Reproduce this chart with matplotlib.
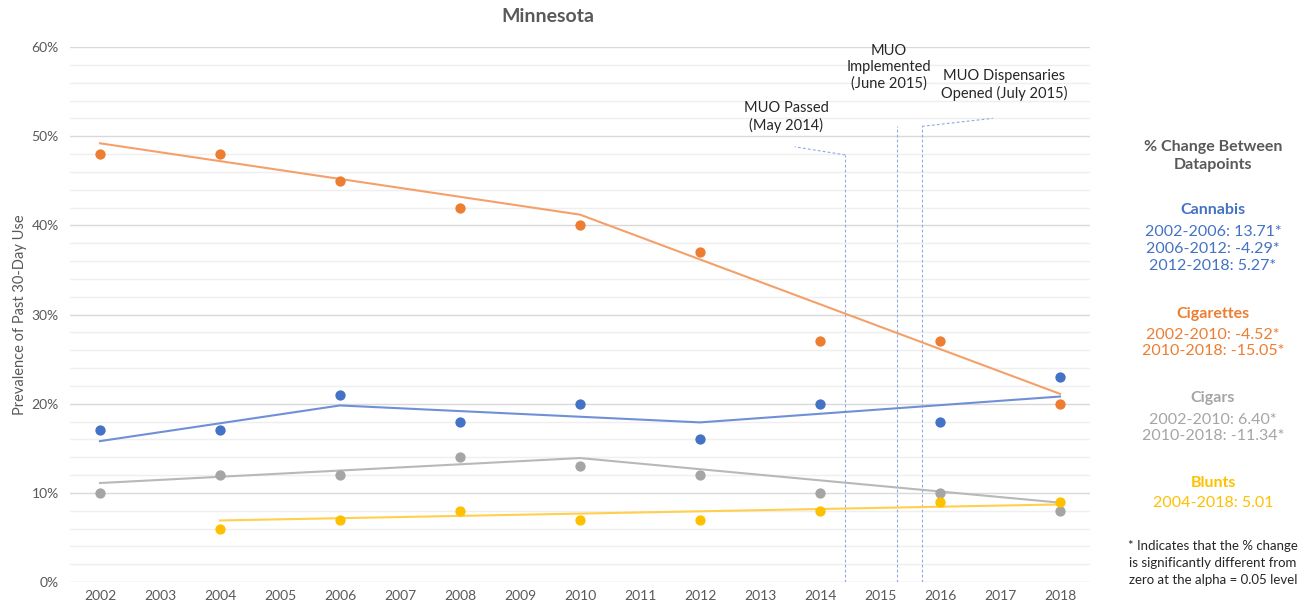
import numpy as np
import matplotlib.pyplot as plt
from matplotlib.ticker import MultipleLocator, PercentFormatter

plt.rcParams['font.family'] = ['Lato', 'DejaVu Sans']

# survey years and observed prevalence (%)
years = [2002, 2004, 2006, 2008, 2010, 2012, 2014, 2016, 2018]
cannabis = [17, 17, 21, 18, 20, 16, 20, 18, 23]
cigarettes = [48, 48, 45, 42, 40, 37, 27, 27, 20]
cigars = [10, 12, 12, 14, 13, 12, 10, 10, 8]
blunt_years = [2004, 2006, 2008, 2010, 2012, 2014, 2016, 2018]
blunts = [6, 7, 8, 7, 7, 8, 9, 9]

# joinpoint trend lines
cannabis_fit_x = [2002, 2006, 2012, 2018]
cannabis_fit_y = [15.8, 19.8, 17.9, 20.8]
cig_fit_x = [2002, 2010, 2018]
cig_fit_y = [49.2, 41.2, 21.1]
cigar_fit_x = [2002, 2010, 2018]
cigar_fit_y = [11.1, 13.9, 8.9]
blunt_fit_x = [2004, 2018]
blunt_fit_y = [6.9, 8.7]

# policy events (year as decimal)
events = [2014.42, 2015.28, 2015.7]

BLUE = '#4472C4'
ORANGE = '#ED7D31'
GRAY = '#A5A5A5'
GOLD = '#FFC000'
TXT = '#595959'

fig = plt.figure(figsize=(13.15, 6.1), dpi=100)
ax = fig.add_axes([70/1315, 1 - 582/610, 1020/1315, 535/610])

ax.set_xlim(2001.5, 2018.5)
ax.set_ylim(0, 60)
ax.set_xticks(range(2002, 2019))
ax.yaxis.set_major_locator(MultipleLocator(10))
ax.yaxis.set_minor_locator(MultipleLocator(2))
ax.yaxis.set_major_formatter(PercentFormatter(decimals=0))
ax.grid(axis='y', which='major', color='#D9D9D9', lw=1.0)
ax.grid(axis='y', which='minor', color='#EFEFEF', lw=1.0)
ax.set_axisbelow(True)
for s in ax.spines.values():
    s.set_visible(False)
ax.tick_params(which='both', length=0, labelsize=10, colors=TXT, pad=8)
ax.tick_params(axis='x', pad=6)
ax.set_ylabel('Prevalence of Past 30-Day Use', fontsize=10.5, color=TXT, labelpad=3)

# event lines
dash = dict(color='#8FAADC', lw=0.8, ls=(0, (2.5, 2)))
ax.plot([events[0], events[0]], [0, 47.9], **dash)
ax.plot([events[0], 2013.58], [47.9, 48.8], **dash)
ax.plot([events[1], events[1]], [0, 51.1], **dash)
ax.plot([events[2], events[2]], [0, 51.1], **dash)
ax.plot([events[2], 2016.88], [51.1, 52.0], **dash)

ax.plot(cig_fit_x, cig_fit_y, color='#F4A06A', lw=1.5)
ax.plot(cannabis_fit_x, cannabis_fit_y, color='#6F90D6', lw=1.5)
ax.plot(cigar_fit_x, cigar_fit_y, color='#B8B8B8', lw=1.5)
ax.plot(blunt_fit_x, blunt_fit_y, color='#FFCF4D', lw=1.5)

ax.scatter(years, cigarettes, s=55, color=ORANGE, zorder=3, lw=0)
ax.scatter(years, cannabis, s=55, color=BLUE, zorder=3, lw=0)
ax.scatter(years, cigars, s=55, color=GRAY, zorder=3, lw=0)
ax.scatter(blunt_years, blunts, s=55, color=GOLD, zorder=3, lw=0)

def ftext(x, y, s, **kw):
    fig.text(x/1315, 1 - y/610, s, ha='center', va='center', **kw)

ftext(548, 17, 'Minnesota', fontsize=14, fontweight='bold', color=TXT)
ftext(786, 117, 'MUO Passed\n(May 2014)', fontsize=10.5, color='#262626', linespacing=1.2)
ftext(889, 67, 'MUO\nImplemented\n(June 2015)', fontsize=10.5, color='#262626', linespacing=1.2)
ftext(1004, 85, 'MUO Dispensaries\nOpened (July 2015)', fontsize=10.5, color='#262626', linespacing=1.2)

cx = 1213
ftext(cx, 156, '% Change Between\nDatapoints', fontsize=11.5, fontweight='bold', color=TXT, linespacing=1.35)
ftext(cx, 210, 'Cannabis', fontsize=11.5, fontweight='bold', color=BLUE)
ftext(cx, 249, '2002-2006: 13.71*\n2006-2012: -4.29*\n2012-2018: 5.27*', fontsize=11.5, color=BLUE, linespacing=1.25)
ftext(cx, 314, 'Cigarettes', fontsize=11.5, fontweight='bold', color=ORANGE)
ftext(cx, 343, '2002-2010: -4.52*\n2010-2018: -15.05*', fontsize=11.5, color=ORANGE, linespacing=1.25)
ftext(cx, 398, 'Cigars', fontsize=11.5, fontweight='bold', color=GRAY)
ftext(cx, 428, '2002-2010: 6.40*\n2010-2018: -11.34*', fontsize=11.5, color=GRAY, linespacing=1.25)
ftext(cx, 483, 'Blunts', fontsize=11.5, fontweight='bold', color=GOLD)
ftext(cx, 503, '2004-2018: 5.01', fontsize=11.5, color=GOLD)
ftext(cx, 563, '* Indicates that the % change\nis significantly different from\nzero at the alpha = 0.05 level',
      fontsize=9.5, color='#262626', linespacing=1.45)

fig.savefig('out.png', dpi=100, facecolor='white')
